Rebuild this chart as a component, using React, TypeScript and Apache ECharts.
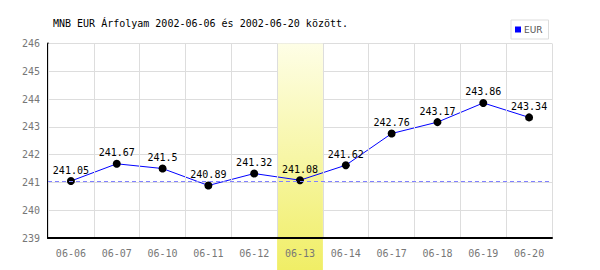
import React, { useEffect, useRef } from "react";
import * as echarts from "echarts";

const categories = ["06-06", "06-07", "06-10", "06-11", "06-12", "06-13", "06-14", "06-17", "06-18", "06-19", "06-20"];
const eurValues = [241.05, 241.67, 241.5, 240.89, 241.32, 241.08, 241.62, 242.76, 243.17, 243.86, 243.34];
const referenceValue = 241.05;
const highlightCategory = "06-13";
const titleText = "MNB EUR Árfolyam 2002-06-06 és 2002-06-20 között.";

const MONO = "'DejaVu Sans Mono', monospace";

export default function App() {
  const ref = useRef<HTMLDivElement>(null);
  useEffect(() => {
    if (!ref.current) return;
    const chart = echarts.init(ref.current, undefined, { renderer: "svg" });
    chart.setOption({
      animation: false,
      backgroundColor: "#ffffff",
      title: {
        text: titleText,
        left: 48,
        top: 13,
        textStyle: { fontFamily: MONO, fontSize: 10, fontWeight: "normal", color: "#000" },
      },
      legend: {
        data: [{ name: "EUR", icon: "rect", itemStyle: { color: "#0000ff" } }],
        left: 511,
        top: 20,
        width: 41,
        padding: [5, 6, 5, 4],
        borderColor: "#dddddd",
        borderWidth: 1,
        itemWidth: 6,
        itemHeight: 6,
        itemGap: 2,
        textStyle: { fontFamily: "'DejaVu Sans', sans-serif", fontSize: 9, color: "#555", padding: [0, 0, 0, -2] },
      },
      grid: { left: 48, right: 48, top: 43.5, bottom: 32, containLabel: false },
      xAxis: {
        type: "category",
        data: categories,
        boundaryGap: true,
        z: 5,
        axisLine: { lineStyle: { color: "#000", width: 2 } },
        axisTick: { show: false },
        splitLine: { show: true, lineStyle: { color: "#dddddd", width: 1 } },
        axisLabel: { fontFamily: MONO, fontSize: 10, color: "#777", margin: 10, interval: 0 },
      },
      yAxis: {
        type: "value",
        min: 239,
        max: 246,
        interval: 1,
        axisLine: { show: true, lineStyle: { color: "#000", width: 2 } },
        axisTick: { show: false },
        splitLine: { lineStyle: { color: "#dddddd", width: 1 } },
        axisLabel: { fontFamily: MONO, fontSize: 10, color: "#777", margin: 8 },
      },
      series: [
        {
          name: "ref",
          type: "line",
          data: [],
          z: 1,
          silent: true,
          markLine: {
            silent: true,
            symbol: "none",
            label: { show: false },
            lineStyle: { color: "#8080ff", type: [4, 3], width: 1, opacity: 1 },
            data: [{ yAxis: referenceValue }],
          },
        },
        {
          name: "EUR",
          type: "line",
          data: eurValues,
          z: 3,
          color: "#0000ff",
          symbol: "circle",
          symbolSize: 8,
          itemStyle: { color: "#000" },
          lineStyle: { color: "#0000ff", width: 1 },
          label: {
            show: true,
            position: "top",
            distance: 2,
            fontFamily: MONO,
            fontSize: 10,
            color: "#000",
            formatter: (p: any) => String(p.value),
          },
        },
      ],
    });
    const idx = categories.indexOf(highlightCategory);
    const c0 = chart.convertToPixel({ xAxisIndex: 0 }, 0) as number;
    const c1 = chart.convertToPixel({ xAxisIndex: 0 }, 1) as number;
    const bw = c1 - c0;
    const cx = chart.convertToPixel({ xAxisIndex: 0 }, idx) as number;
    const yTop = chart.convertToPixel({ yAxisIndex: 0 }, 246) as number;
    const h = chart.getHeight();
    chart.setOption({
      graphic: [
        {
          type: "rect",
          z: 2,
          silent: true,
          shape: { x: cx - bw / 2, y: yTop, width: bw, height: h - yTop },
          style: {
            fill: new echarts.graphic.LinearGradient(0, 0, 0, 1, [
              { offset: 0, color: "#fefee6" },
              { offset: 1, color: "#f0ee66" },
            ]),
          },
        },
      ],
    });
    return () => chart.dispose();
  }, []);
  return <div ref={ref} style={{ width: 600, height: 270, position: "absolute", left: 0, top: 0 }} />;
}
